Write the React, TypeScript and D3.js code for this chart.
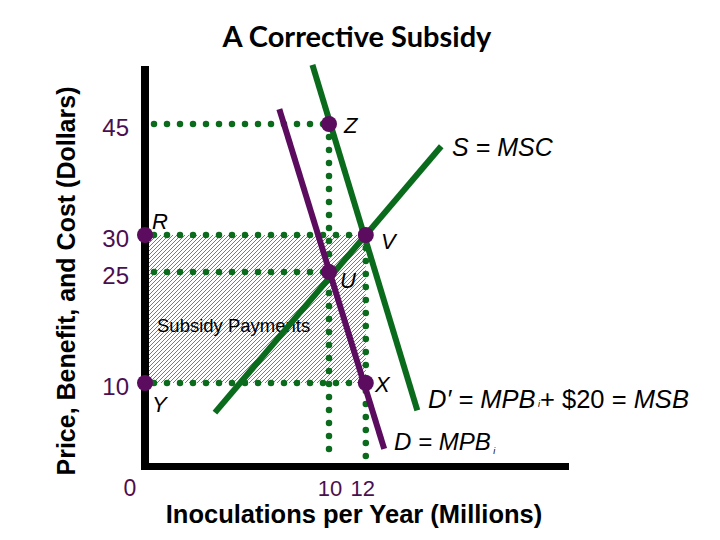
import React from "react";
import * as d3 from "d3";

// ---- data ----
const priceTicks = [45, 30, 25, 10];
const qtyTicks = [10, 12];
const originLabel = "0";

const pointNames = ["Z", "R", "V", "U", "Y", "X"];
const pointQty = [10, 0, 12, 10, 0, 12];
const pointPrice = [45, 30, 30, 25, 10, 10];

const supplyQty = [3.8, 16.1];
const supplyPrice = [6.0, 42.0];
const demandQty = [7.3, 13.0];
const demandPrice = [47.0, 1.1];
const socialDemandQty = [9.1, 14.8];
const socialDemandPrice = [53.0, 6.3];

const title = "A Corrective Subsidy";
const yTitle = "Price, Benefit, and Cost (Dollars)";
const xTitle = "Inoculations per Year (Millions)";

const PURPLE = "#5c0c5e";
const GREEN = "#0b6b1c";
const TICK = "#4b0f50";
const SANS = "'Liberation Sans', Arial, sans-serif";

export default function App() {
  const x = d3.scaleLinear().domain([0, 23]).range([145, 568.2]);
  const y = d3.scaleLinear().domain([10, 45]).range([383, 124]);
  const axisX = 145;
  const axisY = 466.5;
  const axisTop = 66;
  const line = d3
    .line<[number, number]>()
    .x((d) => x(d[0]))
    .y((d) => y(d[1]));
  const pts = pointNames.map((n, i) => ({ n, q: pointQty[i], p: pointPrice[i] }));
  const P = (n: string) => pts.find((d) => d.n === n)!;

  const dotted = (x1: number, y1: number, x2: number, y2: number, key: string) => (
    <line
      key={key}
      x1={x1}
      y1={y1}
      x2={x2}
      y2={y2}
      stroke={GREEN}
      strokeWidth={6.5}
      strokeLinecap="round"
      strokeDasharray="0 13"
    />
  );

  const Z = P("Z"), R = P("R"), V = P("V"), U = P("U"), Y = P("Y"), X = P("X");

  const labelPos: Record<string, [number, number]> = {
    Z: [344, 133],
    R: [152, 229],
    V: [381, 249],
    U: [340, 288],
    X: [375, 392],
    Y: [152, 412],
  };

  return (
    <svg width={720} height={540} style={{ position: "absolute", left: 0, top: 0, background: "#fff" }}>
      <defs>
        <pattern id="hatch" width="4" height="4" patternUnits="userSpaceOnUse">
          <path d="M-1,1 l2,-2 M0,4 l4,-4 M3,5 l2,-2" stroke="#333" strokeWidth={0.65} />
        </pattern>
      </defs>
      <rect x={0} y={0} width={720} height={540} fill="#fff" />

      {/* title */}
      <text x={357} y={47} textAnchor="middle" fontFamily="Lato, 'Open Sans', sans-serif" fontWeight={700} fontSize={29} fill="#000">
        {title}
      </text>

      {/* subsidy area */}
      <rect
        x={axisX + 4}
        y={y(R.p)}
        width={x(V.q) - axisX - 4}
        height={y(Y.p) - y(R.p)}
        fill="url(#hatch)"
      />
      <text x={157} y={332} fontFamily={SANS} fontSize={18.5} fill="#000">
        Subsidy Payments
      </text>

      {/* dotted guides */}
      {dotted(axisX + 9, y(Z.p), x(Z.q), y(Z.p), "h45")}
      {dotted(x(Z.q), y(Z.p), x(Z.q), axisY - 6, "v10")}
      {dotted(axisX + 9, y(R.p), x(V.q), y(R.p), "h30")}
      {dotted(axisX + 9, y(U.p), x(U.q), y(U.p), "h25")}
      {dotted(axisX + 9, y(Y.p), x(X.q), y(Y.p), "h10")}
      {dotted(x(V.q), y(V.p), x(V.q), axisY - 6, "v12")}

      {/* axes */}
      <line x1={axisX} y1={axisTop} x2={axisX} y2={axisY + 3.5} stroke="#000" strokeWidth={8} />
      <line x1={axisX - 4} y1={axisY} x2={569} y2={axisY} stroke="#000" strokeWidth={7} />

      {/* curves */}
      <path
        d={line([[supplyQty[0], supplyPrice[0]], [supplyQty[1], supplyPrice[1]]])!}
        stroke={GREEN}
        strokeWidth={6}
        fill="none"
      />
      <path
        d={line([[socialDemandQty[0], socialDemandPrice[0]], [socialDemandQty[1], socialDemandPrice[1]]])!}
        stroke={GREEN}
        strokeWidth={6}
        fill="none"
      />
      <path
        d={line([[demandQty[0], demandPrice[0]], [demandQty[1], demandPrice[1]]])!}
        stroke={PURPLE}
        strokeWidth={6}
        fill="none"
      />

      {/* points */}
      {pts.map((d) => (
        <circle key={d.n} cx={d.q === 0 ? axisX : x(d.q)} cy={y(d.p)} r={8} fill={PURPLE} />
      ))}
      {pts.map((d) => (
        <text
          key={"l" + d.n}
          x={labelPos[d.n][0]}
          y={labelPos[d.n][1]}
          fontFamily={SANS}
          fontStyle="italic"
          fontSize={22}
          fill="#000"
        >
          {d.n}
        </text>
      ))}

      {/* tick labels */}
      {priceTicks.map((t) => (
        <text key={"yt" + t} x={129} y={y(t) + 12} textAnchor="end" fontFamily={SANS} fontSize={24} fill={TICK}>
          {t}
        </text>
      ))}
      <text x={130} y={496} textAnchor="middle" fontFamily={SANS} fontSize={23} fill={TICK}>
        {originLabel}
      </text>
      {qtyTicks.map((t, i) => (
        <text key={"xt" + t} x={x(t) + (i === 0 ? 1 : -3)} y={496} textAnchor="middle" fontFamily={SANS} fontSize={22} fill={TICK}>
          {t}
        </text>
      ))}

      {/* curve labels */}
      <text x={452} y={156} fontFamily={SANS} fontStyle="italic" fontSize={25} fill="#000">
        S = MSC
      </text>
      <text x={428} y={408} fontFamily={SANS} fontSize={25.5} fill="#000">
        <tspan fontStyle="italic">D′ = MPB</tspan>
        <tspan fontSize={9} fontStyle="italic" dy={-1}> i</tspan>
        <tspan dy={1}>+ $20 = </tspan>
        <tspan fontStyle="italic">MSB</tspan>
      </text>
      <text x={394} y={450} fontFamily={SANS} fontStyle="italic" fontSize={24} fill="#000">
        D = MPB
        <tspan fontSize={9} dy={4}> i</tspan>
      </text>

      {/* axis titles */}
      <text
        transform="translate(75,281) rotate(-90)"
        textAnchor="middle"
        fontFamily={SANS}
        fontWeight={700}
        fontSize={25}
        fill="#000"
      >
        {yTitle}
      </text>
      <text x={354} y={523} textAnchor="middle" fontFamily={SANS} fontWeight={700} fontSize={25.5} fill="#000">
        {xTitle}
      </text>
    </svg>
  );
}
